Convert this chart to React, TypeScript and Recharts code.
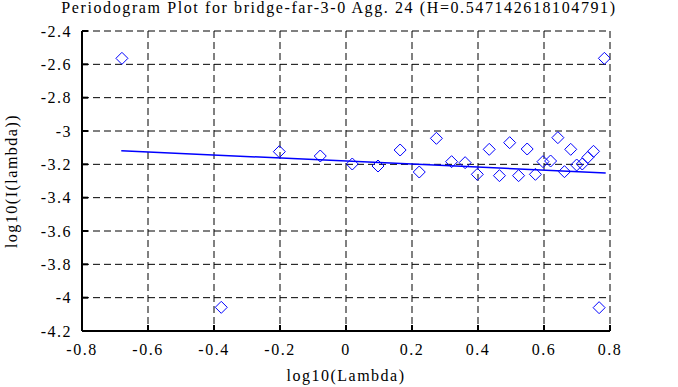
import { CartesianGrid, Scatter, ScatterChart, XAxis, YAxis } from 'recharts'

// log10 of the Fourier frequencies and the periodogram value at each
const lambdaLog = [
  -0.679, -0.378, -0.202, -0.078, 0.019, 0.097, 0.164, 0.222, 0.274, 0.32,
  0.361, 0.398, 0.434, 0.465, 0.496, 0.523, 0.549, 0.574, 0.597, 0.62,
  0.642, 0.662, 0.681, 0.699, 0.716, 0.733, 0.75, 0.767, 0.783,
]
const periodLog = [
  -2.564, -4.058, -3.124, -3.15, -3.198, -3.21, -3.114, -3.246, -3.044, -3.184,
  -3.19, -3.26, -3.11, -3.268, -3.07, -3.268, -3.108, -3.26, -3.184, -3.18,
  -3.04, -3.244, -3.11, -3.204, -3.198, -3.158, -3.122, -4.06, -2.564,
]

// least squares fit, end points
const fitX = [-0.681, 0.787]
const fitY = [-3.118, -3.252]

const xTicks = [-0.8, -0.6, -0.4, -0.2, 0, 0.2, 0.4, 0.6, 0.8]
const yTicks = [-4.2, -4, -3.8, -3.6, -3.4, -3.2, -3, -2.8, -2.6, -2.4]

const TITLE = 'Periodogram Plot for bridge-far-3-0 Agg. 24 (H=0.547142618104791)'

const FONT = '"Liberation Serif", "Times New Roman", serif'
const BLUE = '#0000ff'

const points = lambdaLog.map((x, i) => ({ x, y: periodLog[i] }))
const fitLine = fitX.map((x, i) => ({ x, y: fitY[i] }))

const tickStyle = { fontSize: 16, fill: '#000', fontFamily: FONT, letterSpacing: 1.5 }

function Diamond(props: any) {
  const { cx, cy } = props
  if (cx == null || cy == null) return null
  const r = 6
  return (
    <polygon
      points={`${cx},${cy - r} ${cx + r},${cy} ${cx},${cy + r} ${cx - r},${cy}`}
      fill="none"
      stroke={BLUE}
      strokeWidth={1}
    />
  )
}

const noDot = () => <g />
const blank = () => ''

export default function App() {
  return (
    <div
      style={{
        position: 'absolute',
        left: 0,
        top: 0,
        width: 678,
        height: 387,
        background: '#fff',
        fontFamily: FONT,
        color: '#000',
        letterSpacing: '1.5px',
      }}
    >
      <div
        style={{
          position: 'absolute',
          left: 0,
          top: 0,
          width: 678,
          textAlign: 'center',
          fontSize: 16,
          lineHeight: '16px',
          letterSpacing: '1.6px',
        }}
      >
        {TITLE}
      </div>
      <ScatterChart
        width={678}
        height={387}
        margin={{ top: 31, right: 68, left: 0, bottom: 0 }}
        style={{ fontFamily: FONT, letterSpacing: '1.5px' }}
      >
        <CartesianGrid stroke="#000" strokeDasharray="7 4" />
        <XAxis
          type="number"
          dataKey="x"
          domain={[-0.8, 0.8]}
          ticks={xTicks}
          allowDataOverflow
          height={56}
          tick={tickStyle}
          tickSize={-6}
          tickMargin={19}
          axisLine={{ stroke: '#000', strokeWidth: 2 }}
          tickLine={{ stroke: '#000', strokeWidth: 2 }}
        />
        <XAxis
          xAxisId="top"
          orientation="top"
          type="number"
          domain={[-0.8, 0.8]}
          ticks={xTicks}
          allowDataOverflow
          height={0}
          tickFormatter={blank}
          tickSize={-6}
          axisLine={{ stroke: '#000', strokeWidth: 2 }}
          tickLine={{ stroke: '#000', strokeWidth: 2 }}
        />
        <YAxis
          type="number"
          dataKey="y"
          domain={[-4.2, -2.4]}
          ticks={yTicks}
          allowDataOverflow
          width={82}
          tick={tickStyle}
          tickSize={-6}
          tickMargin={16}
          axisLine={{ stroke: '#000', strokeWidth: 2 }}
          tickLine={{ stroke: '#000', strokeWidth: 2 }}
        />
        <YAxis
          yAxisId="right"
          orientation="right"
          type="number"
          domain={[-4.2, -2.4]}
          ticks={yTicks}
          allowDataOverflow
          width={0}
          tickFormatter={blank}
          tickSize={-6}
          axisLine={{ stroke: '#000', strokeWidth: 2 }}
          tickLine={{ stroke: '#000', strokeWidth: 2 }}
        />
        <Scatter
          data={fitLine}
          line={{ stroke: BLUE, strokeWidth: 1.5 }}
          shape={noDot}
          isAnimationActive={false}
        />
        <Scatter data={points} shape={Diamond} isAnimationActive={false} />
      </ScatterChart>
      <div
        style={{
          position: 'absolute',
          left: 82,
          width: 528,
          top: 366,
          textAlign: 'center',
          fontSize: 16,
          lineHeight: '20px',
        }}
      >
        log10(Lambda)
      </div>
      <div
        style={{
          position: 'absolute',
          left: 12,
          top: 181,
          transform: 'translate(-50%, -50%) rotate(-90deg)',
          whiteSpace: 'nowrap',
          fontSize: 16,
          lineHeight: '20px',
        }}
      >
        log10(I(lambda))
      </div>
    </div>
  )
}
